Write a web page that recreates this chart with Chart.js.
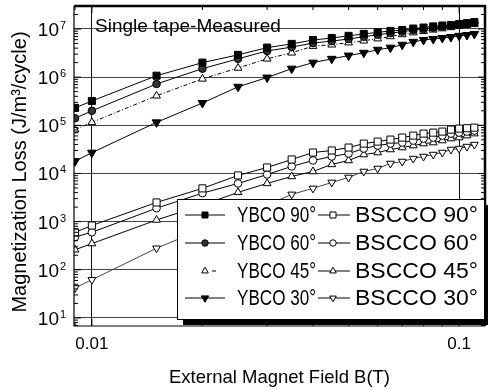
<!DOCTYPE html>
<html><head><meta charset="utf-8">
<script src="https://cdn.jsdelivr.net/npm/chart.js@4.4.0/dist/chart.umd.min.js"></script>
<style>html,body{margin:0;padding:0;background:#fff;}#wrap{width:491px;height:390px;}</style>
</head><body><div id="wrap"><canvas id="c" width="491" height="390"></canvas></div>
<script>
// ---- data ----
const fieldT = [0.009, 0.01, 0.015, 0.02, 0.025, 0.03, 0.035, 0.04, 0.045, 0.05, 0.055, 0.06, 0.065, 0.07, 0.075, 0.08, 0.085, 0.09, 0.095, 0.1, 0.105, 0.11];
const ybco90 = [2.3e5, 3.2e5, 1.07e6, 2.0e6, 2.9e6, 4.1e6, 4.9e6, 5.9e6, 6.5e6, 7.2e6, 7.9e6, 8.5e6, 9.1e6, 9.5e6, 1.02e7, 1.07e7, 1.13e7, 1.18e7, 1.21e7, 1.27e7, 1.32e7, 1.39e7];
const ybco60 = [1.4e5, 2.0e5, 7.2e5, 1.5e6, 2.4e6, 3.5e6, 4.2e6, 5.1e6, 5.6e6, 6.2e6, 6.9e6, 7.6e6, 8.2e6, 8.8e6, 9.5e6, 1.0e7, 1.06e7, 1.12e7, 1.17e7, 1.22e7, 1.28e7, 1.34e7];
const ybco45 = [8.1e4, 1.15e5, 4.1e5, 9.2e5, 1.55e6, 2.4e6, 3.2e6, 4.4e6, 4.7e6, 5.2e6, 5.7e6, 6.3e6, 7.0e6, 7.7e6, 8.4e6, 9.0e6, 9.6e6, 1.02e7, 1.08e7, 1.14e7, 1.2e7, 1.26e7];
const ybco30 = [1.8e4, 2.7e4, 1.15e5, 2.9e5, 6.3e5, 9.8e5, 1.5e6, 2.0e6, 2.4e6, 2.8e6, 3.2e6, 3.7e6, 4.1e6, 4.7e6, 5.4e6, 5.9e6, 6.2e6, 6.5e6, 6.8e6, 7.2e6, 7.5e6, 7.9e6];
const bscco90 = [600, 830, 2500, 4900, 9100, 13300, 19500, 27200, 30000, 34500, 41700, 45900, 50500, 55600, 61100, 67200, 70500, 74000, 81400, 85400, 87000, 89500];
const bscco60 = [480, 600, 1900, 3900, 6200, 9500, 14000, 18600, 22500, 25900, 32900, 37900, 41700, 43800, 48200, 53000, 55600, 61100, 67200, 70500, 74000, 77600];
const bscco45 = [260, 350, 1080, 2200, 4050, 6210, 8660, 11000, 15400, 18600, 24700, 27200, 31400, 34500, 37900, 41700, 43800, 48200, 53000, 55600, 61100, 67200];
const bscco30 = [42, 62, 280, 700, 1300, 2200, 3680, 4900, 6510, 8260, 11000, 12700, 16100, 17700, 20400, 22500, 24700, 27200, 31400, 32900, 36200, 39800];

const seriesNames = ['YBCO 90°', 'YBCO 60°', 'YBCO 45°', 'YBCO 30°', 'BSCCO 90°', 'BSCCO 60°', 'BSCCO 45°', 'BSCCO 30°'];
const xTickValues = [0.01, 0.1];
const xTickLabels = ['0.01', '0.1'];
const yTickExponents = [1, 2, 3, 4, 5, 6, 7];
const annotationText = 'Single tape-Measured';
const xTitle = 'External Magnet Field B(T)';
const yTitle = 'Magnetization Loss (J/m³/cycle)';

const FONT = "'Liberation Sans', Arial, Helvetica, sans-serif";

// ---- styles ----
const styles = [
  {pointStyle:'rect', rotation:0, radius:5, bg:'#000', dash:[], line:'#000'},
  {pointStyle:'circle', rotation:0, radius:3.8, bg:'#333', dash:[], line:'#000'},
  {pointStyle:'triangle', rotation:0, radius:4.5, bg:'#fff', dash:[4,2,1,2], line:'#000'},
  {pointStyle:'triangle', rotation:180, radius:5, bg:'#000', dash:[], line:'#000'},
  {pointStyle:'rect', rotation:0, radius:5, bg:'#fff', dash:[], line:'#000'},
  {pointStyle:'circle', rotation:0, radius:3.8, bg:'#fff', dash:[], line:'#000'},
  {pointStyle:'triangle', rotation:0, radius:4.5, bg:'#fff', dash:[], line:'#000'},
  {pointStyle:'triangle', rotation:180, radius:4.5, bg:'#fff', dash:[], line:'#444'}
];
const seriesValues = [ybco90, ybco60, ybco45, ybco30, bscco90, bscco60, bscco45, bscco30];

const datasets = seriesValues.map((vals, i) => ({
  label: seriesNames[i],
  data: fieldT.map((x, j) => ({x: x, y: vals[j]})),
  borderColor: styles[i].line,
  borderWidth: 1,
  borderDash: styles[i].dash,
  pointStyle: styles[i].pointStyle,
  rotation: styles[i].rotation,
  pointRadius: styles[i].radius,
  pointBackgroundColor: styles[i].bg,
  pointBorderColor: '#000',
  pointBorderWidth: 1,
  tension: 0,
  fill: false
}));

function fitText(ctx, text, x, y, width) {
  const w = ctx.measureText(text).width;
  ctx.save();
  ctx.translate(x, y);
  ctx.scale(width / w, 1);
  ctx.fillText(text, 0, 0);
  ctx.restore();
}

const decorPlugin = {
  id: 'decor',
  afterDraw(chart) {
    const ctx = chart.ctx;
    const a = chart.chartArea;
    const xs = chart.scales.x, ys = chart.scales.y;
    ctx.save();
    // frame
    ctx.strokeStyle = '#000';
    ctx.lineWidth = 1.2;
    ctx.beginPath();
    ctx.moveTo(a.left, a.top); ctx.lineTo(a.left, a.bottom); ctx.lineTo(a.right, a.bottom);
    ctx.stroke();
    ctx.lineWidth = 2.5;
    ctx.beginPath();
    ctx.moveTo(a.left, a.top); ctx.lineTo(a.right, a.top); ctx.lineTo(a.right, a.bottom);
    ctx.stroke();
    ctx.lineWidth = 1;
    // x ticks (inward)
    for (let e = -3; e <= 0; e++) {
      for (let k = 1; k <= 9; k++) {
        const v = k * Math.pow(10, e);
        if (v < xs.min || v > xs.max) continue;
        const px = xs.getPixelForValue(v);
        const len = k === 1 ? 7 : 4;
        ctx.beginPath();
        ctx.moveTo(px, a.bottom); ctx.lineTo(px, a.bottom - len);
        ctx.moveTo(px, a.top); ctx.lineTo(px, a.top + len);
        ctx.stroke();
      }
    }
    // y ticks (inward)
    for (let e = 0; e <= 7; e++) {
      for (let k = 1; k <= 9; k++) {
        const v = k * Math.pow(10, e);
        if (v < ys.min || v > ys.max) continue;
        const py = ys.getPixelForValue(v);
        const len = k === 1 ? 7 : 4;
        ctx.beginPath();
        ctx.moveTo(a.left, py); ctx.lineTo(a.left + len, py);
        ctx.moveTo(a.right, py); ctx.lineTo(a.right - len, py);
        ctx.stroke();
      }
    }
    // y tick labels with superscripts
    ctx.fillStyle = '#000';
    ctx.textBaseline = 'alphabetic';
    yTickExponents.forEach(ex => {
      const py = ys.getPixelForValue(Math.pow(10, ex));
      ctx.font = '19px ' + FONT;
      ctx.textAlign = 'right';
      ctx.fillText('10', 59, py + 7);
      ctx.font = '11px ' + FONT;
      ctx.textAlign = 'left';
      ctx.fillText(String(ex), 60, py);
    });
    // y title
    ctx.save();
    ctx.translate(20, 172);
    ctx.rotate(-Math.PI / 2);
    ctx.font = '20px ' + FONT;
    ctx.textAlign = 'center';
    ctx.textBaseline = 'middle';
    ctx.fillText(yTitle, 0, 0);
    ctx.restore();
    // annotation
    ctx.font = '19px ' + FONT;
    ctx.textAlign = 'left';
    ctx.textBaseline = 'alphabetic';
    ctx.fillText(annotationText, 95, 32);
    // legend
    const lx = 177, ly = 199, lw = 307, lh = 120;
    ctx.fillStyle = '#000';
    ctx.fillRect(lx + 6, ly + lh, lw + 4 - 6, 6);
    ctx.fillRect(lx + lw, ly + 6, 4, lh);
    ctx.fillStyle = '#fff';
    ctx.fillRect(lx, ly, lw, lh);
    ctx.strokeStyle = '#000';
    ctx.lineWidth = 1;
    ctx.strokeRect(lx + 0.5, ly + 0.5, lw, lh);
    const rowY = [215, 243, 271, 298];
    const cols = [{l0:185, m:205, l1:225, t:237, w:79}, {l0:318, m:333, l1:350, t:355, w:123}];
    for (let i = 0; i < 8; i++) {
      const c = cols[Math.floor(i / 4)];
      const y = rowY[i % 4];
      const st = styles[i];
      ctx.strokeStyle = '#000';
      ctx.lineWidth = 1;
      ctx.beginPath();
      if (i === 2) {
        ctx.moveTo(c.m + 7, y); ctx.lineTo(c.m + 11, y);
      } else {
        ctx.moveTo(c.l0, y); ctx.lineTo(c.l1, y);
      }
      ctx.stroke();
      ctx.fillStyle = st.bg;
      Chart.helpers.drawPoint(ctx, {pointStyle: st.pointStyle, rotation: st.rotation, radius: st.radius * 0.85, borderWidth: 1}, c.m, y);
      ctx.fillStyle = '#000';
      ctx.font = '22px ' + FONT;
      ctx.textAlign = 'left';
      ctx.textBaseline = 'middle';
      fitText(ctx, seriesNames[i], c.t, y + 1, c.w);
    }
    ctx.restore();
  }
};

new Chart(document.getElementById('c'), {
  type: 'line',
  data: {datasets: datasets},
  options: {
    responsive: false,
    animation: false,
    devicePixelRatio: 1,
    layout: {padding: {left: 0, right: 4, top: 5, bottom: 0}},
    plugins: {legend: {display: false}, tooltip: {enabled: false}},
    scales: {
      x: {
        type: 'logarithmic',
        min: 0.00894, max: 0.1176,
        afterBuildTicks: s => { s.ticks = xTickValues.map(v => ({value: v})); },
        afterFit: s => { s.height = 64; },
        ticks: {
          callback: (v, i) => xTickLabels[i],
          font: {family: FONT, size: 17}, color: '#000', padding: 8,
          maxRotation: 0, autoSkip: false
        },
        grid: {color: '#111', lineWidth: 1, drawTicks: false},
        border: {display: false},
        title: {display: true, text: xTitle, font: {family: FONT, size: 18.5}, color: '#000', padding: {top: 0, bottom: 1}}
      },
      y: {
        type: 'logarithmic',
        min: 6.8, max: 3e7,
        afterBuildTicks: s => { s.ticks = yTickExponents.map(e => ({value: Math.pow(10, e)})); },
        afterFit: s => { s.width = 74; },
        ticks: {display: false},
        grid: {color: '#444', lineWidth: 1, drawTicks: false},
        border: {display: false},
        title: {display: false}
      }
    }
  },
  plugins: [decorPlugin]
});
</script>
</body></html>
